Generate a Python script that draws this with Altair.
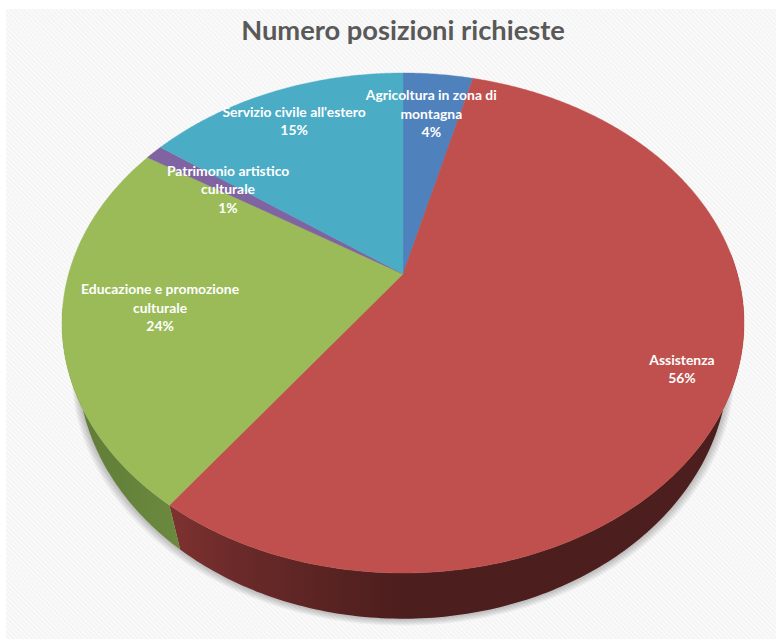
import numpy as np
import pandas as pd
import altair as alt

TITLE = "Numero posizioni richieste"
categories = [
    "Agricoltura in zona di\nmontagna",
    "Assistenza",
    "Educazione e promozione\nculturale",
    "Patrimonio artistico\nculturale",
    "Servizio civile all'estero",
]
shares = [4, 56, 24, 1, 15]
colors = ["#4f81bd", "#c0504d", "#9bbb59", "#8064a2", "#4bacc6"]
label_radii = [0.777, 0.856, 0.72, 0.68, 0.82]

W, H = 776, 639
CX, CY = 403.0, 274.0       # where the slices meet on the page
TOP_A, TOP_B, TILT = 240.4, 334.4, 0.196
BASE_A, BASE_B, BASE_DROP = 245.0, 319.0, 40.0
LINE_HEIGHT = 18.5
TEXT_NUDGE = 1.5            # optical centring of the label block


def rim(angles_deg, a, b, drop=0.0):
    """Perspective projection of a circle; angle 0 at the top, clockwise."""
    t = np.radians(np.asarray(angles_deg, dtype=float))
    u, v = np.sin(t), np.cos(t)
    w = 1 + TILT * v
    return CX + b * u / w, CY - a * v / w + drop


def polygon(xs, ys):
    return pd.DataFrame({"x": xs, "y": ys, "i": np.arange(len(xs))})


x_enc = alt.X("x:Q", scale=alt.Scale(domain=[0, W]), axis=None)
y_enc = alt.Y("y:Q", scale=alt.Scale(domain=[H, 0]), axis=None)


def shape(df, **mark):
    return alt.Chart(df).mark_line(clip=True, **mark).encode(
        x=x_enc, y=y_enc, order=alt.Order("i:Q")
    )


layers = []

# Pale hatched backdrop
backdrop = pd.DataFrame({"x": [6], "x2": [W], "y": [9], "y2": [H]})
layers.append(
    alt.Chart(backdrop).mark_rect(color="#fbfbfb").encode(
        x=x_enc, x2="x2:Q", y=y_enc, y2="y2:Q"
    )
)
offsets = np.arange(-H, W, 4.6)
hatch = pd.DataFrame({"x": offsets, "x2": offsets + H, "y": 9.0, "y2": 9.0 + H})
layers.append(
    alt.Chart(hatch).mark_rule(color="#f4f4f4", strokeWidth=1.8, clip=True).encode(
        x=x_enc, x2="x2:Q", y=y_enc, y2="y2:Q"
    )
)
for x0, x1, y0, y1 in [(0, 6, 0, H), (0, W, 0, 9)]:
    margin = pd.DataFrame({"x": [x0], "x2": [x1], "y": [y0], "y2": [y1]})
    layers.append(
        alt.Chart(margin).mark_rect(color="#ffffff").encode(
            x=x_enc, x2="x2:Q", y=y_enc, y2="y2:Q"
        )
    )

edges = np.cumsum([0] + shares) * 3.6
split = edges[2]            # red / green boundary on the near side

# Soft shadow under the base
all_round = np.linspace(0, 360, 241)
for step in range(1, 8):
    sx, sy = rim(all_round, BASE_A, BASE_B + step * 0.9, BASE_DROP + step * 1.0)
    layers.append(shape(polygon(sx, sy), fill="#000000", fillOpacity=0.035, strokeOpacity=0))

# Side walls
red_angles = np.linspace(split, 85, 160)
rx0, ry0 = rim(red_angles, BASE_A, BASE_B, BASE_DROP)
rx1, ry1 = rim(red_angles[::-1], TOP_A, TOP_B)
red_wall = alt.Gradient(
    gradient="linear", x1=0, x2=1, y1=0, y2=0,
    stops=[
        alt.GradientStop(offset=0.0, color="#7e3230"),
        alt.GradientStop(offset=0.12, color="#6a2a29"),
        alt.GradientStop(offset=0.4, color="#4c1e1d"),
        alt.GradientStop(offset=1.0, color="#4c1e1d"),
    ],
)
layers.append(shape(polygon(np.r_[rx0, rx1], np.r_[ry0, ry1]), fill=red_wall, strokeOpacity=0))

green_angles = np.linspace(split, 262, 60)
gx0, gy0 = rim(green_angles, BASE_A, BASE_B, BASE_DROP)
gx1, gy1 = rim(green_angles[::-1], TOP_A, TOP_B)
green_wall = alt.Gradient(
    gradient="linear", x1=0, x2=1, y1=0, y2=0,
    stops=[
        alt.GradientStop(offset=0.0, color="#5f7a36"),
        alt.GradientStop(offset=1.0, color="#6b8a3e"),
    ],
)
layers.append(shape(polygon(np.r_[gx0, gx1], np.r_[gy0, gy1]), fill=green_wall, strokeOpacity=0))

# Top face of the pie
for start, end, color in zip(edges[:-1], edges[1:], colors):
    angles = np.linspace(start, end, max(int(end - start) * 2, 4))
    sx, sy = rim(angles, TOP_A, TOP_B)
    df = polygon(np.r_[CX, sx, CX], np.r_[CY, sy, CY])
    layers.append(shape(df, fill=color, stroke=color, strokeWidth=0.4))

# Slice labels sit on each slice's middle angle; the first line is lifted so
# that the whole text block is centred on that point
mids = (edges[:-1] + edges[1:]) / 2
texts = [f"{c}\n{s}%" for c, s in zip(categories, shares)]
lx, ly = [], []
for mid, radius, text in zip(mids, label_radii, texts):
    t = np.radians(mid)
    w = 1 + TILT * radius * np.cos(t)
    lx.append(CX + TOP_B * radius * np.sin(t) / w)
    ly.append(CY - TOP_A * radius * np.cos(t) / w - text.count("\n") * LINE_HEIGHT / 2 + TEXT_NUDGE)
labels = pd.DataFrame({"x": lx, "y": ly, "label": texts})
layers.append(
    alt.Chart(labels)
    .mark_text(
        font="Lato", fontSize=13.9, fontWeight="bold", color="#ffffff",
        align="center", baseline="middle", lineBreak="\n", lineHeight=LINE_HEIGHT,
    )
    .encode(x=x_enc, y=y_enc, text="label:N")
)

title_df = pd.DataFrame({"x": [403], "y": [32], "label": [TITLE]})
layers.append(
    alt.Chart(title_df)
    .mark_text(
        font="Lato", fontSize=27.3, fontWeight="bold", color="#595959",
        align="center", baseline="middle",
    )
    .encode(x=x_enc, y=y_enc, text="label:N")
)

chart = (
    alt.layer(*layers)
    .properties(width=W, height=H, padding=0, background="#ffffff",
                autosize=alt.AutoSizeParams(type="none"))
    .configure_view(stroke=None)
)

chart.save("out.html", embed_options={"renderer": "svg", "actions": False})
